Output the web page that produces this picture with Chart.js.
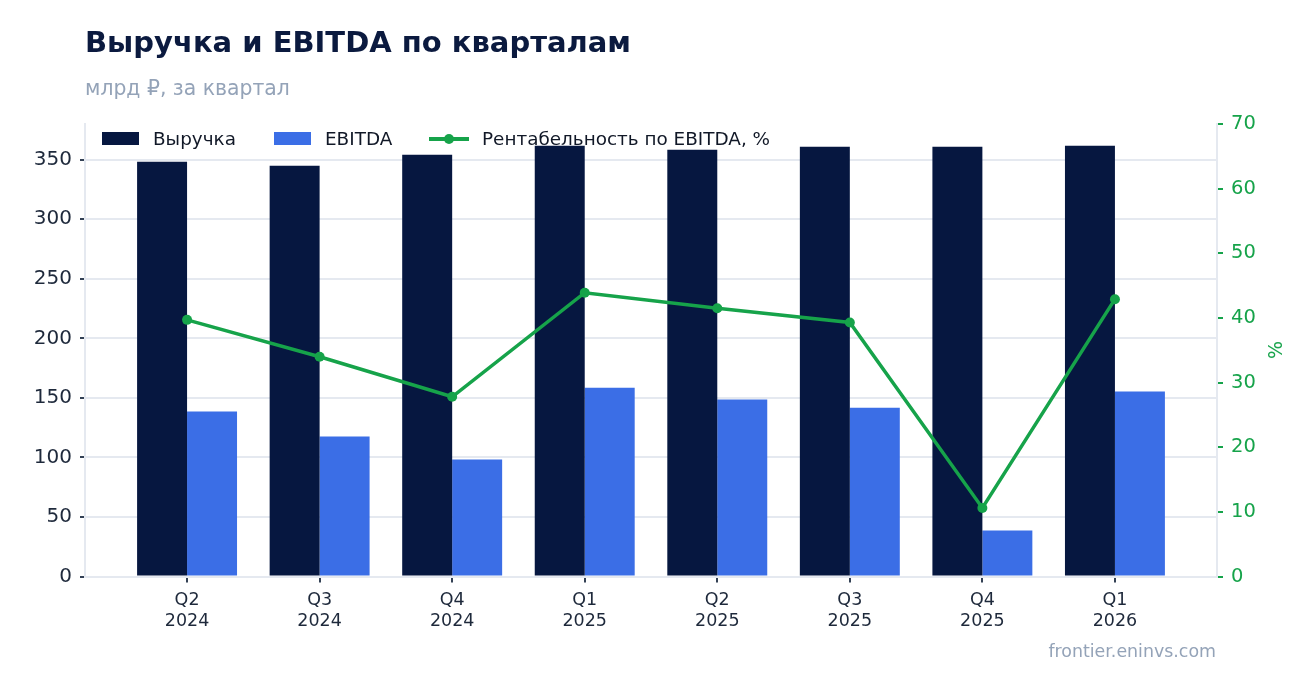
<!DOCTYPE html>
<html lang="ru">
<head>
<meta charset="utf-8">
<script src="https://cdn.jsdelivr.net/npm/chart.js@4.4.1/dist/chart.umd.min.js"></script>
<style>
  html, body { margin:0; padding:0; background:#fff; }
  body { width:1316px; height:693px; position:relative; overflow:hidden; font-family:"DejaVu Sans", sans-serif; }
  #wrap { position:absolute; left:0; top:0; width:1316px; height:693px; }
  .title { position:absolute; left:85px; top:25px; font-size:29px; font-weight:bold; color:#0b1a3f; white-space:nowrap; }
  .subtitle { position:absolute; left:85px; top:76px; font-size:20.4px; color:#94a3b8; white-space:nowrap; }
  .footer { position:absolute; right:100px; top:641px; font-size:17.4px; color:#94a3b8; white-space:nowrap; }
  .ytitle { position:absolute; left:1275px; top:350px; font-size:19px; color:#16a34a; transform:translate(-50%,-50%) rotate(-90deg); white-space:nowrap; }
  .legend { position:absolute; top:128px; left:0; width:1316px; font-size:18.4px; color:#111827; }
  .legend .box { position:absolute; top:4px; width:37px; height:13px; }
  .legend .txt { position:absolute; top:0; line-height:22px; white-space:nowrap; }
  .legend .ln { position:absolute; top:9px; width:40px; height:4px; background:#16a34a; }
  .legend .dot { position:absolute; top:6px; width:10px; height:10px; border-radius:50%; background:#16a34a; }
</style>
</head>
<body>
<div id="wrap"><canvas id="c" width="1316" height="693"></canvas></div>
<div class="title">Выручка и EBITDA по кварталам</div>
<div class="subtitle">млрд ₽, за квартал</div>
<div class="footer">frontier.eninvs.com</div>
<div class="ytitle">%</div>
<div class="legend">
  <div class="box" style="left:102px;background:#061740"></div>
  <div class="txt" style="left:153px">Выручка</div>
  <div class="box" style="left:274px;background:#3b6ee6"></div>
  <div class="txt" style="left:325px">EBITDA</div>
  <div class="ln" style="left:429px"></div>
  <div class="dot" style="left:444px"></div>
  <div class="txt" style="left:482px">Рентабельность по EBITDA, %</div>
</div>
<script>
const quarters = [["Q2","2024"],["Q3","2024"],["Q4","2024"],["Q1","2025"],["Q2","2025"],["Q3","2025"],["Q4","2025"],["Q1","2026"]];
const revenue = [348.3, 345.0, 354.2, 361.8, 358.4, 360.9, 360.9, 361.8];
const ebitda  = [138.5, 117.5, 98.2, 158.6, 148.6, 141.8, 38.6, 155.3];
const margin  = [39.7, 34.0, 27.8, 43.9, 41.5, 39.3, 10.6, 42.9];

const asPoints = arr => arr.map((v, i) => ({ x: i, y: v }));

const tickDark = '#334155';
const gridCol = '#e5e9f0';

new Chart(document.getElementById('c'), {
  data: {
    datasets: [
      { type: 'line', label: 'Рентабельность по EBITDA, %', data: asPoints(margin), yAxisID: 'y1',
        borderColor: '#16a34a', backgroundColor: '#16a34a', borderWidth: 3.5, pointRadius: 5,
        pointBackgroundColor: '#16a34a', pointBorderWidth: 0, tension: 0, order: 0 },
      { type: 'bar', label: 'Выручка', data: asPoints(revenue), yAxisID: 'y', backgroundColor: '#061740',
        categoryPercentage: 0.754, barPercentage: 1, order: 1 },
      { type: 'bar', label: 'EBITDA', data: asPoints(ebitda), yAxisID: 'y', backgroundColor: '#3b6ee6',
        categoryPercentage: 0.754, barPercentage: 1, order: 1 }
    ]
  },
  options: {
    responsive: false,
    animation: false,
    layout: { padding: { top: 124, left: 0, right: 0, bottom: 0 } },
    plugins: { legend: { display: false }, tooltip: { enabled: false } },
    scales: {
      x: {
        type: 'linear', min: -0.77, max: 7.77, offset: false,
        afterFit: s => { s.height = 116.5; },
        afterBuildTicks: s => { s.ticks = quarters.map((q, i) => ({ value: i })); },
        grid: { offset: false, drawOnChartArea: false, drawTicks: true, tickLength: 6, tickColor: tickDark, lineWidth: 2 },
        border: { color: gridCol, width: 2 },
        ticks: {
          stepSize: 1, includeBounds: false, autoSkip: false, maxRotation: 0, padding: 7,
          color: '#1e293b', font: { family: 'DejaVu Sans', size: 17.5, lineHeight: 1.22 },
          callback: v => (Number.isInteger(v) && quarters[v]) ? quarters[v] : ''
        }
      },
      y: {
        position: 'left', min: 0, max: 380,
        afterFit: s => { s.width = 85; },
        grid: { color: gridCol, lineWidth: 2, tickLength: 5, tickColor: tickDark },
        border: { color: gridCol, width: 2 },
        ticks: { stepSize: 50, includeBounds: false, padding: 8, color: '#1e293b', font: { family: 'DejaVu Sans', size: 20 } }
      },
      y1: {
        position: 'right', min: 0, max: 70,
        afterFit: s => { s.width = 99; },
        grid: { drawOnChartArea: false, tickLength: 6, tickColor: '#16a34a', lineWidth: 2 },
        border: { color: gridCol, width: 2 },
        ticks: { stepSize: 10, padding: 8, color: '#16a34a', font: { family: 'DejaVu Sans', size: 19.5 } }
      }
    }
  }
});
</script>
</body>
</html>
